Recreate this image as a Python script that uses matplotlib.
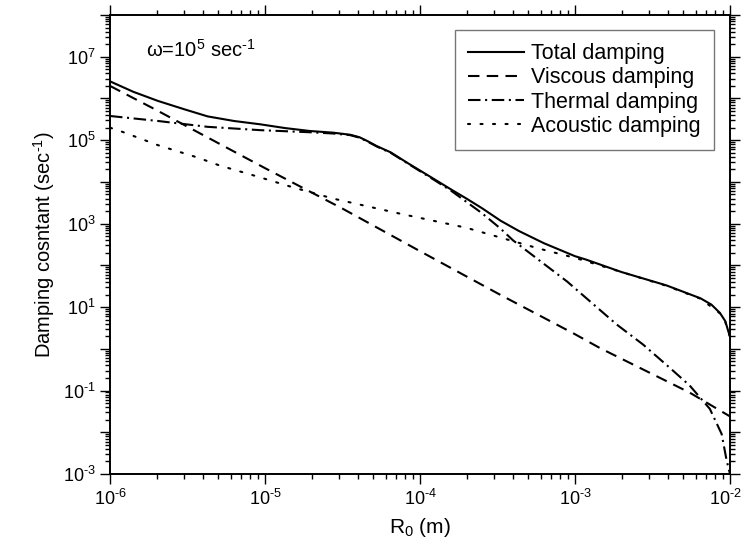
import matplotlib
matplotlib.use("Agg")
import matplotlib.pyplot as plt
import matplotlib.transforms as mtransforms
import numpy as np
from matplotlib.ticker import LogLocator, FixedLocator, NullFormatter

plt.rcParams['font.family'] = ['Liberation Sans', 'DejaVu Sans']
plt.rcParams['mathtext.fontset'] = 'custom'
plt.rcParams['mathtext.rm'] = 'Liberation Sans'
plt.rcParams['mathtext.it'] = 'Liberation Sans:italic'
plt.rcParams['mathtext.bf'] = 'Liberation Sans:bold'

# ---- data (log10 values) ----
total_logx = [-6.0, -5.85, -5.69, -5.52, -5.37, -5.2, -5.03, -4.87, -4.71, -4.56, -4.45,
              -4.39, -4.34, -4.28, -4.19, -4.07, -3.91, -3.8, -3.70, -3.6, -3.48, -3.36,
              -3.2, -3.0, -2.93, -2.7, -2.41, -2.19, -2.12, -2.065, -2.03, -2.011, -2.0]
total_logy = [6.41, 6.16, 5.94, 5.74, 5.57, 5.46, 5.38, 5.29, 5.22, 5.18, 5.13,
              5.07, 4.98, 4.86, 4.71, 4.43, 4.07, 3.82, 3.60, 3.37, 3.07, 2.82,
              2.53, 2.22, 2.14, 1.84, 1.52, 1.21, 1.06, 0.86, 0.66, 0.42, 0.30]

viscous_logx = [-6.0, -5.71, -5.0, -4.5, -4.0, -3.48, -3.0, -2.84, -2.26, -2.0]
viscous_logy = [6.30, 5.74, 4.33, 3.36, 2.34, 1.29, 0.35, 0.02, -1.05, -1.62]

thermal_logx = [-6.0, -5.69, -5.37, -5.03, -4.71, -4.56, -4.45, -4.39, -4.34, -4.28,
                -4.19, -4.07, -3.91, -3.8, -3.70, -3.6, -3.48, -3.40, -3.05, -2.73,
                -2.56, -2.39, -2.26, -2.13, -2.054, -2.022, -2.0]
thermal_logy = [5.58, 5.46, 5.32, 5.24, 5.19, 5.16, 5.12, 5.06, 4.97, 4.85,
                4.70, 4.42, 4.05, 3.79, 3.52, 3.25, 2.88, 2.60, 1.61, 0.58,
                0.10, -0.45, -0.88, -1.44, -2.04, -2.67, -3.0]

acoustic_logx = [-6.0, -5.92, -5.69, -5.44, -5.29, -5.05, -4.82, -4.56, -4.13, -3.70,
                 -3.40, -3.23, -2.99, -2.7, -2.41, -2.19, -2.065, -2.03, -2.011, -2.0]
acoustic_logy = [5.30, 5.20, 4.88, 4.59, 4.39, 4.13, 3.87, 3.60, 3.24, 2.90,
                 2.58, 2.40, 2.17, 1.84, 1.51, 1.20, 0.85, 0.64, 0.41, 0.28]

series_labels = ["Total damping", "Viscous damping", "Thermal damping", "Acoustic damping"]

x_ticks_exp = [-6, -5, -4, -3, -2]
y_ticks_exp = [-3, -1, 1, 3, 5, 7]


def p10(a):
    return 10.0 ** np.asarray(a, dtype=float)


def exp_label(e):
    return r'$10^{\text{%d}}$' % e


fig = plt.figure(figsize=(7.44, 5.58), dpi=100)
ax = fig.add_axes([110/744, 84/558, 620/744, 459/558])

lw = 1.5
ax.plot(p10(total_logx), p10(total_logy), color='black', lw=lw, ls='-', label=series_labels[0])
ax.plot(p10(viscous_logx), p10(viscous_logy), color='black', lw=lw, ls=(0, (5.5, 3.5)), label=series_labels[1])
ax.plot(p10(thermal_logx), p10(thermal_logy), color='black', lw=lw, ls=(0, (6, 2.2, 1, 2.2)), label=series_labels[2])
ax.plot(p10(acoustic_logx), p10(acoustic_logy), color='black', lw=lw, ls=(0, (1, 5)),
        dash_capstyle='round', label=series_labels[3])

ax.set_xscale('log')
ax.set_yscale('log')
ax.set_xlim(1e-6, 1e-2)
ax.set_ylim(1e-3, 1e8)

ax.xaxis.set_major_locator(FixedLocator([10.0**e for e in x_ticks_exp]))
ax.set_xticklabels([exp_label(e) for e in x_ticks_exp])
ax.xaxis.set_minor_locator(LogLocator(base=10, subs=np.arange(2, 10), numticks=20))
ax.xaxis.set_minor_formatter(NullFormatter())

ax.yaxis.set_major_locator(FixedLocator([10.0**e for e in range(-3, 9)]))
ax.set_yticklabels([exp_label(e) if e in y_ticks_exp else '' for e in range(-3, 9)])
ax.yaxis.set_minor_locator(LogLocator(base=10, subs=np.arange(2, 10), numticks=30))
ax.yaxis.set_minor_formatter(NullFormatter())

ax.tick_params(which='both', direction='out', top=True, right=True, width=1.0,
               labelsize=13)
ax.tick_params(which='major', length=7)
ax.tick_params(which='minor', length=3.5)
for s in ax.spines.values():
    s.set_linewidth(1.4)

# nudge the last x tick label so it stays inside the figure
last = ax.get_xticklabels()[-1]
last.set_transform(last.get_transform() +
                   mtransforms.ScaledTranslation(-5/100, 0, fig.dpi_scale_trans))

ax.set_xlabel(r'R$_0$ (m)', fontsize=15, labelpad=5)
ax.set_ylabel(r'Damping cosntant (sec$^{\text{-1}}$)', fontsize=14.5, labelpad=4)

ax.text(0.058, 0.908, r'ω=10$^5$ sec$^{\text{-1}}$', transform=ax.transAxes,
        fontsize=14.5, ha='left', va='baseline')

leg = ax.legend(loc='upper right', bbox_to_anchor=(0.974, 0.967), fontsize=15.5,
                frameon=True, fancybox=False, edgecolor='#555555', handlelength=2.6,
                handletextpad=0.35, labelspacing=0.15, borderpad=0.6, borderaxespad=0)
leg.get_frame().set_linewidth(1.0)

fig.savefig('out.png', dpi=100)
